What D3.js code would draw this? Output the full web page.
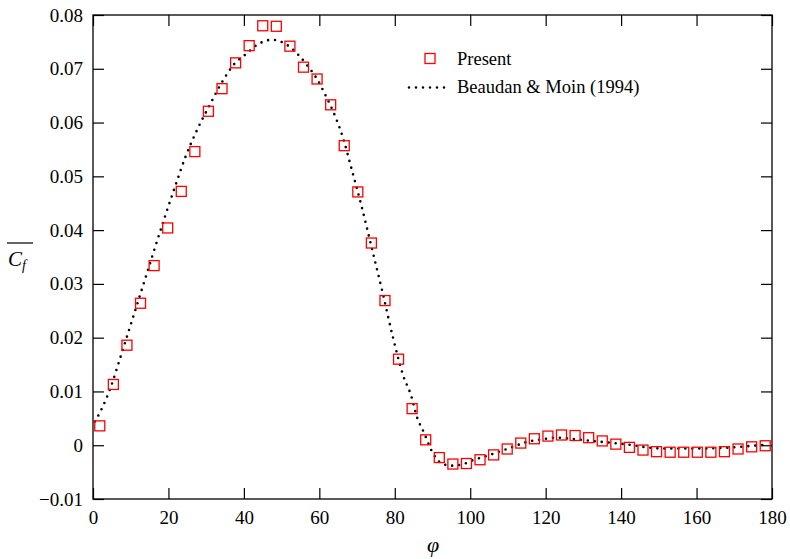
<!DOCTYPE html>
<html>
<head>
<meta charset="utf-8">
<script src="https://cdn.jsdelivr.net/npm/d3@7.9.0/dist/d3.min.js"></script>
<style>
  body { margin: 0; background: #fff; }
</style>
</head>
<body>
<svg id="chart" width="790" height="559" font-family="Liberation Serif"></svg>
<script>
// tick values
const xTicks = [0, 20, 40, 60, 80, 100, 120, 140, 160, 180];
const yTicks = [-0.01, 0, 0.01, 0.02, 0.03, 0.04, 0.05, 0.06, 0.07, 0.08];

// Present (squares)
const presentPhi = [1.8, 5.4, 9.0, 12.6, 16.2, 19.8, 23.4, 27.0, 30.6, 34.2,
  37.8, 41.4, 45.0, 48.6, 52.2, 55.8, 59.4, 63.0, 66.6, 70.2,
  73.8, 77.4, 81.0, 84.6, 88.2, 91.8, 95.4, 99.0, 102.6, 106.2,
  109.8, 113.4, 117.0, 120.6, 124.2, 127.8, 131.4, 135.0, 138.6, 142.2,
  145.8, 149.4, 153.0, 156.6, 160.2, 163.8, 167.4, 171.0, 174.6, 178.2];
const presentCf = [0.0036, 0.0113, 0.0186, 0.0264, 0.0334, 0.0404, 0.0472, 0.0546, 0.0621, 0.0663,
  0.0711, 0.0743, 0.0780, 0.0779, 0.0742, 0.0703, 0.0681, 0.0633, 0.0557, 0.0471,
  0.0376, 0.0269, 0.0160, 0.0068, 0.0010, -0.0023, -0.0035, -0.0034, -0.0027, -0.0018,
  -0.0007, 0.0004, 0.0012, 0.0017, 0.0019, 0.0018, 0.0014, 0.0008, 0.0002, -0.0004,
  -0.0009, -0.0012, -0.0013, -0.0013, -0.0013, -0.0013, -0.0012, -0.0007, -0.0003, -0.0001];

// Beaudan & Moin (1994) (dotted line)
const bmPhi = [0.5, 2.4, 4.7, 7.2, 9.0, 12.6, 15.6, 19.3, 21.9, 24.5,
  27.7, 30.6, 34.1, 37.6, 40.5, 43.6, 47.5, 51.3, 54.3, 56.7,
  59.3, 61.9, 64.3, 66.3, 68.5, 71.1, 74.0, 76.8, 79.5, 82.3,
  84.3, 85.9, 87.7, 89.9, 92.3, 95.0, 98.2, 101.0, 103.9, 107.7,
  111.3, 115.0, 119.0, 122.7, 126.7, 130.9, 136.6, 141.0, 143.2, 146.8,
  150.7, 156.0, 162.0, 167.0, 171.5, 175.0, 178.6];
const bmCf = [0.0044, 0.0069, 0.0108, 0.0162, 0.0202, 0.0282, 0.0349, 0.0430, 0.0484, 0.0536,
  0.0588, 0.0628, 0.0674, 0.0710, 0.0727, 0.0745, 0.0754, 0.0745, 0.0727, 0.0707,
  0.0682, 0.0647, 0.0610, 0.0571, 0.0515, 0.0447, 0.0364, 0.0283, 0.0201, 0.0128,
  0.0093, 0.0052, 0.0024, -0.0012, -0.0033, -0.0038, -0.0035, -0.0027, -0.0021, -0.0012,
  -0.0003, 0.0006, 0.0011, 0.0014, 0.0012, 0.0009, 0.0005, 0.0002, 0.0000, -0.0004,
  -0.0006, -0.0006, -0.0006, -0.0005, -0.0003, -0.0001, 0.0001];

const FONT = 'Liberation Serif';
const svg = d3.select('#chart');
const plotL = 93, plotR = 772, plotT = 15, plotB = 499;

const x = d3.scaleLinear().domain([0, 180]).range([plotL, plotR]);
const y = d3.scaleLinear().domain([-0.01, 0.08]).range([plotB, plotT]);

// frame
svg.append('rect')
  .attr('x', plotL).attr('y', plotT)
  .attr('width', plotR - plotL).attr('height', plotB - plotT)
  .attr('fill', 'none').attr('stroke', '#000').attr('stroke-width', 1.3);

// inward ticks on all four sides
const tickLen = 11;
const fmtY = (d) => d === 0 ? '0' : (d < 0 ? '\u2212' : '') + Math.abs(d).toFixed(2);

const xAxisB = svg.append('g').attr('transform', `translate(0,${plotB})`)
  .call(d3.axisBottom(x).tickValues(xTicks).tickSize(-tickLen).tickPadding(8).tickFormat(d3.format('d')));
const xAxisT = svg.append('g').attr('transform', `translate(0,${plotT})`)
  .call(d3.axisTop(x).tickValues(xTicks).tickSize(-tickLen).tickFormat(''));
const yAxisL = svg.append('g').attr('transform', `translate(${plotL},0)`)
  .call(d3.axisLeft(y).tickValues(yTicks).tickSize(-tickLen).tickPadding(10).tickFormat(fmtY));
const yAxisR = svg.append('g').attr('transform', `translate(${plotR},0)`)
  .call(d3.axisRight(y).tickValues(yTicks).tickSize(-tickLen).tickFormat(''));

[xAxisB, xAxisT, yAxisL, yAxisR].forEach((g) => {
  g.attr('font-family', FONT).attr('font-size', 19);
  g.select('.domain').remove();
  g.selectAll('line').attr('stroke', '#000').attr('stroke-width', 1.2);
  g.selectAll('text').attr('fill', '#000');
});
xAxisB.selectAll('text').attr('dy', '0.9em');

// dotted reference line
const bmData = bmPhi.map((p, i) => ({ phi: p, cf: bmCf[i] }));
const line = d3.line().x((d) => x(d.phi)).y((d) => y(d.cf)).curve(d3.curveMonotoneX);
svg.append('path')
  .datum(bmData)
  .attr('d', line)
  .attr('fill', 'none')
  .attr('stroke', '#000')
  .attr('stroke-width', 2.6)
  .attr('stroke-linecap', 'round')
  .attr('stroke-dasharray', '0 7');

// squares
const sq = 10;
const presentData = presentPhi.map((p, i) => ({ phi: p, cf: presentCf[i] }));
svg.append('g').selectAll('rect')
  .data(presentData)
  .join('rect')
  .attr('x', (d) => x(d.phi) - sq / 2)
  .attr('y', (d) => y(d.cf) - sq / 2)
  .attr('width', sq).attr('height', sq)
  .attr('fill', 'none')
  .attr('stroke', '#ff0000')
  .attr('stroke-width', 1.3);

// legend
const lg = svg.append('g').attr('font-family', FONT).attr('font-size', 18.5);
lg.append('rect').attr('x', 425).attr('y', 53.5).attr('width', sq).attr('height', sq)
  .attr('fill', 'none').attr('stroke', '#ff0000').attr('stroke-width', 1.3);
lg.append('text').attr('x', 457).attr('y', 65).text('Present');
lg.append('line').attr('x1', 409).attr('x2', 449).attr('y1', 87.5).attr('y2', 87.5)
  .attr('stroke', '#000').attr('stroke-width', 2.6).attr('stroke-linecap', 'round')
  .attr('stroke-dasharray', '0 7');
lg.append('text').attr('x', 457).attr('y', 93).text('Beaudan & Moin (1994)');

// axis labels
svg.append('text').attr('x', 433).attr('y', 552).attr('text-anchor', 'middle')
  .attr('font-family', FONT).attr('font-size', 22).attr('font-style', 'italic').text('\u03c6');

const yl = svg.append('text').attr('x', 8).attr('y', 266)
  .attr('font-family', FONT).attr('font-size', 21).attr('font-style', 'italic');
yl.append('tspan').text('C');
yl.append('tspan').attr('font-size', 14).attr('dy', 4).text('f');
svg.append('line').attr('x1', 7).attr('x2', 33).attr('y1', 243).attr('y2', 243)
  .attr('stroke', '#000').attr('stroke-width', 1.2);
</script>
</body>
</html>
